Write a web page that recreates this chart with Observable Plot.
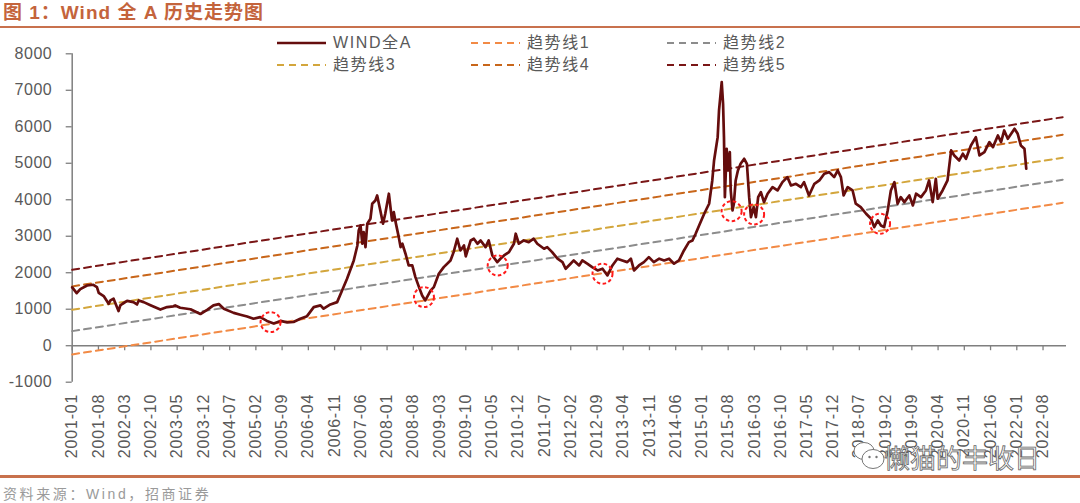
<!DOCTYPE html>
<html><head><meta charset="utf-8">
<script src="https://cdn.jsdelivr.net/npm/d3@7"></script>
<script src="https://cdn.jsdelivr.net/npm/@observablehq/plot@0.6"></script>
<style>
body{margin:0;background:#fff;}
#wrap{position:relative;width:1080px;height:503px;overflow:hidden;background:#fff;font-family:"Liberation Sans","Noto Sans CJK SC",sans-serif;}
#title{position:absolute;left:3px;top:0px;font-size:19px;font-weight:bold;color:#C4643C;letter-spacing:1px;line-height:25px;white-space:nowrap;}
.rule{position:absolute;left:0;width:1080px;height:2.5px;background:#C8714D;}
#chart{position:absolute;left:0;top:0;}
.item{position:absolute;height:20px;line-height:20px;font-size:16px;color:#595959;letter-spacing:1.6px;white-space:nowrap;display:flex;align-items:center;}
.item svg{margin-right:7px;}
#caption{position:absolute;left:3px;top:485px;font-size:14px;line-height:18px;color:#9a9a9a;letter-spacing:2.6px;white-space:nowrap;}
#wm{position:absolute;left:884px;top:441px;font-size:26px;line-height:32px;color:#fff;-webkit-text-stroke:0.8px #666;white-space:nowrap;font-family:"Noto Sans CJK SC",sans-serif;}
#wmicon{position:absolute;left:852px;top:438px;}
g[aria-label="x-axis tick label"] text{letter-spacing:0.8px;}
g[aria-label="y-axis tick label"] text{letter-spacing:0.5px;}
</style></head>
<body>
<div id="wrap">
  <div id="title">图 1：Wind 全 A 历史走势图</div>
  <div class="rule" style="top:25.5px"></div>
  <div id="chart"></div>
  <div class="rule" style="top:475px"></div>
  <div id="caption">资料来源：Wind，招商证券</div>
  <svg id="wmicon" width="34" height="36" viewBox="0 0 34 36">
    <ellipse cx="12" cy="13" rx="10" ry="8.5" fill="#fff" stroke="#777" stroke-width="1"/>
    <ellipse cx="21" cy="21" rx="11" ry="9.5" fill="#fff" stroke="#777" stroke-width="1"/>
    <circle cx="17.5" cy="19" r="1.2" fill="#777"/><circle cx="24.5" cy="19" r="1.2" fill="#777"/>
  </svg>
  <div id="wm">懒猫的丰收日</div>
</div>
<script>
// ---- data ----
const tickLabels = ["2001-01","2001-08","2002-03","2002-10","2003-05","2003-12","2004-07","2005-02","2005-09","2006-04","2006-11","2007-06","2008-01","2008-08","2009-03","2009-10","2010-05","2010-12","2011-07","2012-02","2012-09","2013-04","2013-11","2014-06","2015-01","2015-08","2016-03","2016-10","2017-05","2017-12","2018-07","2019-02","2019-09","2020-04","2020-11","2021-06","2022-01","2022-08"];
const yTicks = [-1000,0,1000,2000,3000,4000,5000,6000,7000,8000];

// WIND全A: time (decimal year) and index level
const windT = [2001.00,2001.10,2001.18,2001.33,2001.47,2001.55,2001.59,2001.70,2001.81,2001.85,2001.92,2002.03,2002.07,2002.12,2002.22,2002.36,2002.44,2002.48,2002.59,2002.74,2002.96,2003.11,2003.25,2003.29,2003.40,2003.63,2003.85,2004.00,2004.14,2004.26,2004.37,2004.59,2004.74,2004.89,2005.03,2005.18,2005.33,2005.48,2005.63,2005.78,2005.92,2006.07,2006.22,2006.37,2006.52,2006.59,2006.74,2006.89,2007.00,2007.11,2007.26,2007.34,2007.37,2007.41,2007.45,2007.48,2007.52,2007.56,2007.63,2007.67,2007.74,2007.78,2007.85,2007.91,2007.96,2008.04,2008.11,2008.15,2008.19,2008.26,2008.30,2008.34,2008.41,2008.48,2008.56,2008.63,2008.71,2008.78,2008.85,2008.97,2009.04,2009.15,2009.26,2009.41,2009.48,2009.56,2009.63,2009.71,2009.75,2009.86,2009.93,2010.01,2010.08,2010.19,2010.26,2010.34,2010.45,2010.52,2010.60,2010.71,2010.82,2010.86,2010.93,2011.04,2011.15,2011.26,2011.34,2011.49,2011.56,2011.67,2011.79,2011.90,2011.97,2012.08,2012.15,2012.27,2012.34,2012.45,2012.56,2012.68,2012.79,2012.90,2013.01,2013.12,2013.23,2013.34,2013.42,2013.49,2013.60,2013.71,2013.82,2013.93,2014.05,2014.16,2014.27,2014.38,2014.49,2014.60,2014.71,2014.79,2014.86,2014.94,2015.05,2015.16,2015.23,2015.27,2015.35,2015.38,2015.44,2015.47,2015.49,2015.51,2015.55,2015.58,2015.62,2015.64,2015.68,2015.71,2015.75,2015.80,2015.86,2015.94,2016.00,2016.05,2016.09,2016.15,2016.20,2016.25,2016.31,2016.38,2016.46,2016.57,2016.68,2016.79,2016.90,2016.98,2017.09,2017.20,2017.27,2017.38,2017.50,2017.61,2017.72,2017.83,2017.94,2018.02,2018.09,2018.15,2018.24,2018.35,2018.42,2018.53,2018.65,2018.76,2018.83,2018.91,2018.98,2019.05,2019.13,2019.20,2019.28,2019.35,2019.42,2019.50,2019.61,2019.69,2019.76,2019.87,2019.98,2020.05,2020.13,2020.20,2020.24,2020.35,2020.46,2020.54,2020.61,2020.72,2020.80,2020.87,2020.98,2021.09,2021.17,2021.28,2021.39,2021.47,2021.58,2021.65,2021.72,2021.80,2021.95,2022.02,2022.09,2022.17,2022.21];
const windV = [1600,1440,1550,1650,1670,1606,1450,1360,1150,1241,1288,950,1104,1150,1230,1195,1130,1241,1195,1110,990,1058,1080,1104,1041,1000,870,980,1104,1140,1014,900,850,800,740,784,680,610,680,640,650,740,810,1058,1104,1014,1131,1195,1515,1836,2337,2748,3159,3296,2795,3113,2702,3343,3480,3891,3981,4118,3707,3343,3617,4165,3433,3661,3387,2976,2702,2795,2521,2200,2200,1880,1606,1378,1241,1515,1606,1973,2154,2337,2565,2932,2611,2748,2450,2885,2932,2795,2885,2702,2885,2474,2291,2384,2474,2565,2795,3069,2795,2885,2839,2932,2795,2658,2702,2565,2384,2291,2110,2247,2337,2200,2337,2247,2154,2063,2110,1926,2200,2384,2337,2291,2384,2063,2200,2291,2428,2291,2384,2337,2384,2247,2337,2611,2839,2885,3069,3300,3617,3891,4529,5077,5716,6447,7223,6631,5716,4072,5398,4803,5305,4255,3707,3891,4529,4803,4986,5123,4986,4072,3524,3798,3524,4072,4209,3935,4165,4346,4255,4483,4620,4392,4438,4346,4483,4118,4438,4529,4713,4757,4620,4803,4620,4118,4346,4255,3891,3798,3617,3480,3250,3433,3296,3250,3707,4255,4483,3891,4072,3935,4118,3844,4165,4072,4255,4529,3935,4575,4028,4255,4529,5351,5214,5077,5260,5123,5488,5716,5214,5305,5579,5442,5762,5579,5899,5672,5945,5808,5488,5398,4850];

// trend lines: value at start and end of their span
const trendNames = ["趋势线1","趋势线2","趋势线3","趋势线4","趋势线5"];
const trendSpan = [2001.0, 2023.02];
const trendStart = [-238, 400, 986, 1625, 2082];
const trendEnd = [3918, 4548, 5150, 5781, 6263];
const trendColors = ["#F28A45","#8C8C8C","#D3A63C","#C8661A","#7A1616"];
const windColor = "#650D0D";

// red dashed circles (touch points)
const circleT = [2005.41, 2008.82, 2010.46, 2012.79, 2015.66, 2016.16, 2018.96];
const circleV = [647, 1332, 2200, 1973, 3688, 3598, 3343];

// ---- build ----
const tickT = tickLabels.map(s => +s.slice(0,4) + (+s.slice(5,7) - 1) / 12);
const wind = windT.map((t,i) => ({t, v: windV[i]}));
const trends = trendNames.map((n,i) => [{t: trendSpan[0], v: trendStart[i]}, {t: trendSpan[1], v: trendEnd[i]}]);
const circles = circleT.map((t,i) => ({t, v: circleV[i]}));
const xEnd = 2023.105;
const axisColor = "#7f7f7f";

const chart = Plot.plot({
  width: 1080, height: 470,
  marginLeft: 71.7, marginRight: 14, marginTop: 53.3, marginBottom: 88.3,
  x: {domain: [2001, xEnd], axis: null, label: null},
  y: {domain: [-1000, 8000], axis: null, label: null},
  style: {background: "transparent", color: "#595959", fontFamily: '"Liberation Sans","Noto Sans CJK SC",sans-serif', overflow: "visible"},
  marks: [
    Plot.axisY({ticks: yTicks, label: null, tickSize: 6, tickPadding: 14, fontSize: 16, stroke: axisColor, strokeWidth: 1.3, tickFormat: d => String(d)}),
    Plot.axisX({ticks: tickT, label: null, anchor: "bottom", tickRotate: -90, tickSize: 0, tickPadding: 11.6, fontSize: 16, tickFormat: d => tickLabels[tickT.indexOf(d)]}),
    Plot.ruleX([2001], {y1: -1000, y2: 8000, stroke: axisColor, strokeWidth: 1.5}),
    Plot.ruleY([0], {x1: 2001, x2: xEnd, stroke: axisColor, strokeWidth: 1.5}),
    Plot.ruleX(tickT, {x: d => d, y1: 0, y2: -137, stroke: axisColor, strokeWidth: 1.3}),
    ...trends.map((d,i) => Plot.line(d, {x: "t", y: "v", stroke: trendColors[i], strokeWidth: 2, strokeDasharray: "7,5"})),
    Plot.line(wind, {x: "t", y: "v", stroke: windColor, strokeWidth: 2.7, strokeLinejoin: "round"}),
    Plot.dot(circles, {x: "t", y: "v", r: 10, stroke: "#FF1A1A", strokeWidth: 2, strokeDasharray: "3.5,2.5", fill: "none"})
  ]
});
document.getElementById("chart").appendChild(chart);

// legend (HTML overlay)
const legendItems = [
  {name: "WIND全A", color: windColor, dash: null, width: 2.5},
  ...trendNames.map((n,i) => ({name: n, color: trendColors[i], dash: "7,5", width: 2}))
];
const colX = [277, 471, 667];
const rowY = [42.5, 64.5];
const wrap = document.getElementById("wrap");
legendItems.forEach((it, j) => {
  const div = document.createElement("div");
  div.className = "item";
  div.style.left = colX[j % 3] + "px";
  div.style.top = (rowY[Math.floor(j / 3)] - 10) + "px";
  div.innerHTML = `<svg width="49" height="6"><line x1="0" y1="3" x2="49" y2="3" stroke="${it.color}" stroke-width="${it.width}" ${it.dash ? `stroke-dasharray="${it.dash}"` : ""}/></svg><span>${it.name}</span>`;
  wrap.appendChild(div);
});
</script>
</body></html>
